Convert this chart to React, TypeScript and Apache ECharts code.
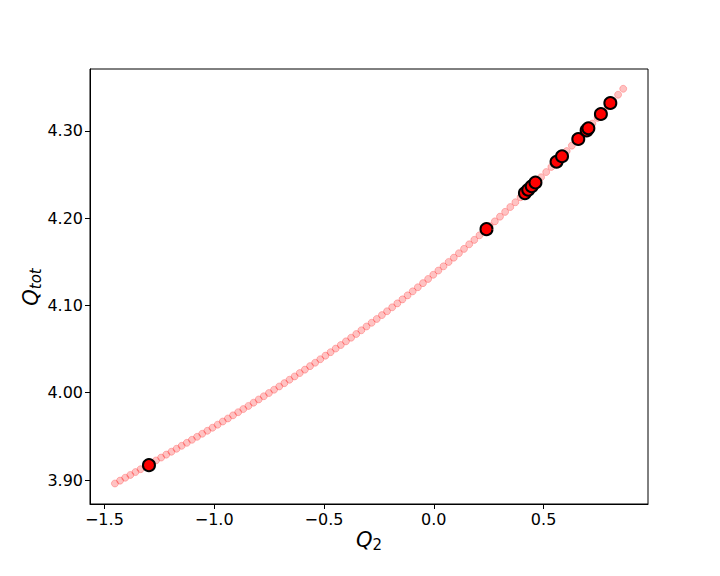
import React, { useEffect, useRef } from "react";
import * as echarts from "echarts";

const pinkX = [-1.452,-1.4286,-1.4052,-1.3819,-1.3585,-1.3351,-1.3117,-1.2883,-1.265,-1.2416,
  -1.2182,-1.1948,-1.1714,-1.1481,-1.1247,-1.1013,-1.0779,-1.0545,-1.0312,-1.0078,
  -0.9844,-0.961,-0.9376,-0.9143,-0.8909,-0.8675,-0.8441,-0.8207,-0.7974,-0.774,
  -0.7506,-0.7272,-0.7038,-0.6805,-0.6571,-0.6337,-0.6103,-0.5869,-0.5636,-0.5402,
  -0.5168,-0.4934,-0.47,-0.4467,-0.4233,-0.3999,-0.3765,-0.3531,-0.3298,-0.3064,
  -0.283,-0.2596,-0.2362,-0.2129,-0.1895,-0.1661,-0.1427,-0.1193,-0.096,-0.0726,
  -0.0492,-0.0258,-0.0024,0.0209,0.0443,0.0677,0.0911,0.1145,0.1378,0.1612,
  0.1846,0.208,0.2314,0.2547,0.2781,0.3015,0.3249,0.3483,0.3716,0.395,
  0.4184,0.4418,0.4652,0.4885,0.5119,0.5353,0.5587,0.5821,0.6054,0.6288,
  0.6522,0.6756,0.699,0.7223,0.7457,0.7691,0.7925,0.8159,0.8392,0.8626];

const pinkY = [3.8960,3.8993,3.9026,3.9058,3.9091,3.9124,3.9157,3.9191,3.9224,3.9257,
  3.9291,3.9324,3.9358,3.9392,3.9426,3.9461,3.9495,3.9530,3.9564,3.9599,
  3.9634,3.9670,3.9705,3.9741,3.9777,3.9813,3.9849,3.9886,3.9923,3.9960,
  3.9997,4.0035,4.0072,4.0110,4.0149,4.0187,4.0226,4.0265,4.0305,4.0344,
  4.0384,4.0425,4.0465,4.0506,4.0547,4.0589,4.0631,4.0673,4.0716,4.0759,
  4.0802,4.0846,4.0890,4.0934,4.0979,4.1024,4.1070,4.1116,4.1162,4.1209,
  4.1256,4.1304,4.1352,4.1400,4.1449,4.1499,4.1548,4.1599,4.1649,4.1701,
  4.1752,4.1804,4.1857,4.1910,4.1964,4.2018,4.2073,4.2128,4.2183,4.2240,
  4.2296,4.2354,4.2412,4.2470,4.2529,4.2588,4.2648,4.2709,4.2770,4.2832,
  4.2894,4.2957,4.3021,4.3085,4.3150,4.3215,4.3281,4.3348,4.3415,4.3483];

const redX = [-1.297,0.240,0.415,0.430,0.446,0.463,0.559,0.584,0.658,0.696,0.704,0.761,0.804];
const redY = [3.917,4.1875,4.2288,4.2326,4.2366,4.2409,4.2647,4.2710,4.2908,4.3006,4.3031,4.3194,4.3320];

const xLabel = "Q";
const xSub = "2";
const yLabel = "Q";
const ySub = "tot";

const FONT = "DejaVu Sans";

export default function App() {
  const ref = useRef<HTMLDivElement>(null);
  useEffect(() => {
    document.body.style.margin = "0";
    const chart = echarts.init(ref.current!, null, { renderer: "svg" });
    const pink = pinkX.map((x, i) => [x, pinkY[i]]);
    const red = redX.map((x, i) => [x, redY[i]]);
    const axisCommon = {
      type: "value" as const,
      scale: true,
      splitLine: { show: false },
      axisLine: { show: true, onZero: false, lineStyle: { color: "#000", width: 1 } },
      axisTick: { show: true, inside: false, length: 5, lineStyle: { color: "#000", width: 1 } },
    };
    chart.setOption({
      animation: false,
      backgroundColor: "#fff",
      grid: {
        left: 90, right: 72, top: 69, bottom: 72,
        show: true, borderColor: "#000", borderWidth: 1, backgroundColor: "transparent",
      },
      xAxis: {
        ...axisCommon,
        min: -1.5655, max: 0.9755, splitNumber: 5,
        axisLabel: {
          color: "#000", fontSize: 16, fontFamily: FONT, margin: 7,
          showMinLabel: false, showMaxLabel: false,
          formatter: (v: number) => v.toFixed(1).replace("-", "\u2212"),
        },
      },
      yAxis: {
        ...axisCommon,
        min: 3.8725, max: 4.371, splitNumber: 5,
        axisLabel: {
          color: "#000", fontSize: 16, fontFamily: FONT, margin: 7,
          showMinLabel: false, showMaxLabel: false,
          formatter: (v: number) => v.toFixed(2),
        },
      },
      graphic: [
        {
          type: "text", x: 369, y: 540,
          style: {
            text: `{q|${xLabel}}{s|${xSub}}`,
            align: "center", verticalAlign: "middle",
            rich: {
              q: { fontSize: 21, fontStyle: "italic", fontFamily: FONT, fill: "#000" },
              s: { fontSize: 15, fontFamily: FONT, fill: "#000", padding: [9, 0, 0, 0] },
            },
          },
        },
        {
          type: "text", x: 31, y: 287, rotation: Math.PI / 2,
          style: {
            text: `{q|${yLabel}}{s|${ySub}}`,
            align: "center", verticalAlign: "middle",
            rich: {
              q: { fontSize: 21, fontStyle: "italic", fontFamily: FONT, fill: "#000" },
              s: { fontSize: 15, fontStyle: "italic", fontFamily: FONT, fill: "#000", padding: [9, 0, 0, 0] },
            },
          },
        },
      ],
      series: [
        {
          type: "scatter", data: pink, symbolSize: 7, z: 2,
          itemStyle: { color: "rgba(255,0,0,0.3)", borderColor: "rgba(255,0,0,0.3)", borderWidth: 1 },
        },
        {
          type: "scatter", data: red, symbolSize: 12, z: 3,
          itemStyle: { color: "#ff0000", borderColor: "#000", borderWidth: 2, opacity: 1 },
        },
      ],
    });
    return () => chart.dispose();
  }, []);
  return <div ref={ref} style={{ width: 720, height: 576 }} />;
}
